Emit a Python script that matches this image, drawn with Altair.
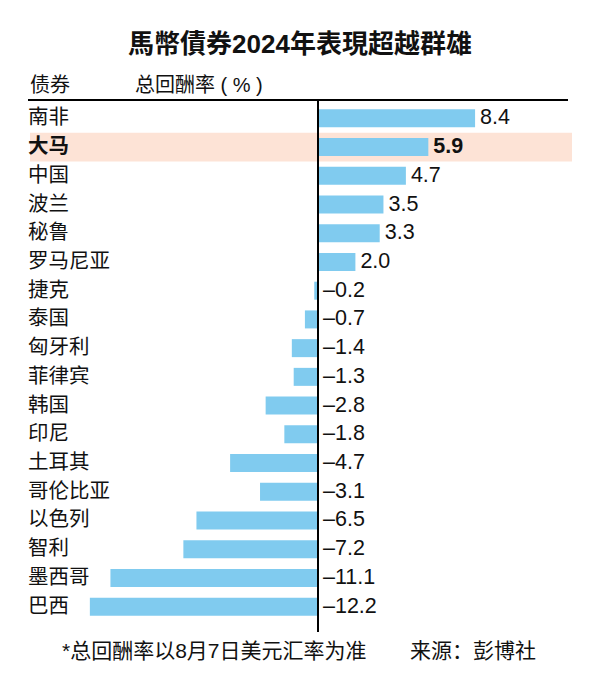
import altair as alt
import pandas as pd

countries = ["南非", "大马", "中国", "波兰", "秘鲁", "罗马尼亚", "捷克", "泰国", "匈牙利",
             "菲律宾", "韩国", "印尼", "土耳其", "哥伦比亚", "以色列", "智利", "墨西哥", "巴西"]
returns = [8.4, 5.9, 4.7, 3.5, 3.3, 2.0, -0.2, -0.7, -1.4,
           -1.3, -2.8, -1.8, -4.7, -3.1, -6.5, -7.2, -11.1, -12.2]
highlight = "大马"

title_text = "馬幣債券2024年表現超越群雄"
header_left = "债券"
header_right = "总回酬率 ( % )"
footer_note = "*总回酬率以8月7日美元汇率为准"
footer_source = "来源：彭博社"

df = pd.DataFrame({"country": countries, "value": returns})
df["pos"] = df["value"].clip(lower=0)
df["label"] = [f"{v:.1f}".replace("-", "–") for v in returns]
df["hl"] = df["country"] == highlight

W, H = 540, 517
FONT = "Liberation Sans, Noto Sans CJK SC"
CAT_SIZE = 20.5
VAL_SIZE = 21.5

yenc = alt.Y("country:N", sort=countries, axis=None,
             scale=alt.Scale(paddingInner=0, paddingOuter=0))
xscale = alt.Scale(domain=[-290 / 18.7, 250 / 18.7], nice=False, zero=False)

base = alt.Chart(df)

hl_rect = base.transform_filter(alt.datum.hl).mark_rect(color="#fde3d6").encode(
    y=yenc, x=alt.value(2), x2=alt.value(544))

bars = base.mark_bar(size=18, color="#80cbef").encode(
    y=yenc, x=alt.X("value:Q", scale=xscale, axis=None), x2=alt.datum(0))

zero = base.mark_rule(color="black", strokeWidth=1.3).encode(
    x=alt.datum(0), y=alt.value(-4), y2=alt.value(528))

topline = base.mark_rule(color="black", strokeWidth=1.5).encode(
    x=alt.value(0), x2=alt.value(W), y=alt.value(-4))

cat_norm = base.transform_filter(~alt.datum.hl).mark_text(
    align="left", baseline="middle", fontSize=CAT_SIZE, font=FONT, color="#111").encode(
    y=yenc, x=alt.value(0), text="country:N")
cat_bold = base.transform_filter(alt.datum.hl).mark_text(
    align="left", baseline="middle", fontSize=CAT_SIZE, font=FONT, fontWeight="bold", color="#111").encode(
    y=yenc, x=alt.value(0), text="country:N")

val_norm = base.transform_filter(~alt.datum.hl).mark_text(
    align="left", baseline="middle", dx=5, fontSize=VAL_SIZE, font=FONT, color="#111").encode(
    y=yenc, x=alt.X("pos:Q", scale=xscale), text="label:N")
val_bold = base.transform_filter(alt.datum.hl).mark_text(
    align="left", baseline="middle", dx=5, fontSize=VAL_SIZE, font=FONT, fontWeight="bold", color="#111").encode(
    y=yenc, x=alt.X("pos:Q", scale=xscale), text="label:N")

def annot(txt, x, y, size=20, weight="normal", align="left"):
    return alt.Chart(pd.DataFrame({"t": [txt]})).mark_text(
        align=align, baseline="middle", fontSize=size, font=FONT, fontWeight=weight,
        color="#111").encode(x=alt.value(x), y=alt.value(y), text="t:N")

title = annot(title_text, 272, -59, size=26, weight="bold", align="center")
h1 = annot(header_left, 2, -18)
h2 = annot(header_right, 107, -18)
f1 = annot(footer_note, 34, 548, size=21)
f2 = annot(footer_source, 382, 548, size=21)

chart = alt.layer(hl_rect, bars, zero, topline, cat_norm, cat_bold, val_norm, val_bold,
                  title, h1, h2, f1, f2).properties(
    width=W, height=H,
    autosize=alt.AutoSizeParams(type="none"),
    padding={"left": 20, "top": 96, "right": 24, "bottom": 66},
    background="white",
).configure_view(strokeWidth=0)

chart.save("out.html", embed_options={"renderer": "svg", "actions": False})
